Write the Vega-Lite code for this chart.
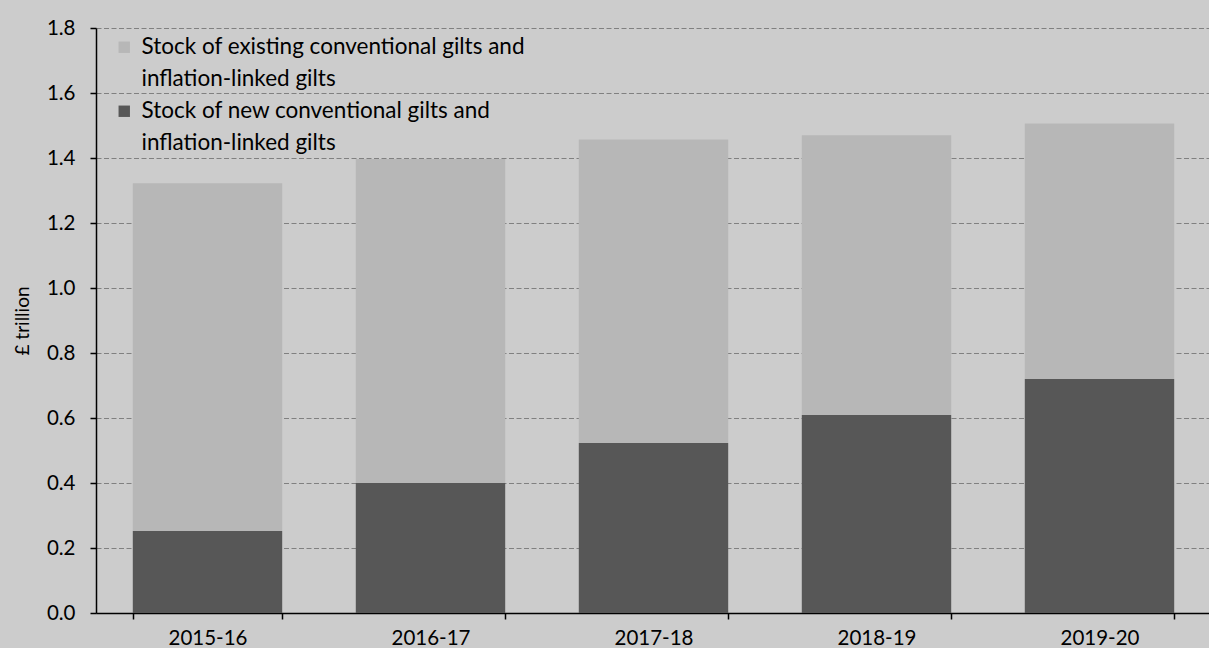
{
  "$schema": "https://vega.github.io/schema/vega-lite/v6.json",
  "width": 1115,
  "height": 585,
  "autosize": "none",
  "padding": {"left": 96, "top": 28, "right": 0, "bottom": 35},
  "background": "#cccccc",
  "config": {
    "view": {"stroke": null, "fill": "#cccccc"},
    "font": "Lato"
  },
  "data": {
    "values": [
      {"year": "2015-16", "series": "Stock of existing conventional gilts and inflation-linked gilts", "value": 1.07},
      {"year": "2015-16", "series": "Stock of new conventional gilts and inflation-linked gilts", "value": 0.252},
      {"year": "2016-17", "series": "Stock of existing conventional gilts and inflation-linked gilts", "value": 0.997},
      {"year": "2016-17", "series": "Stock of new conventional gilts and inflation-linked gilts", "value": 0.4},
      {"year": "2017-18", "series": "Stock of existing conventional gilts and inflation-linked gilts", "value": 0.934},
      {"year": "2017-18", "series": "Stock of new conventional gilts and inflation-linked gilts", "value": 0.523},
      {"year": "2018-19", "series": "Stock of existing conventional gilts and inflation-linked gilts", "value": 0.861},
      {"year": "2018-19", "series": "Stock of new conventional gilts and inflation-linked gilts", "value": 0.609},
      {"year": "2019-20", "series": "Stock of existing conventional gilts and inflation-linked gilts", "value": 0.786},
      {"year": "2019-20", "series": "Stock of new conventional gilts and inflation-linked gilts", "value": 0.72}
    ]
  },
  "mark": {"type": "bar"},
  "encoding": {
    "x": {
      "field": "year",
      "type": "nominal",
      "scale": {"paddingInner": 0.33, "paddingOuter": 0.165},
      "axis": {
        "title": null,
        "labelAngle": 0,
        "labelFontSize": 20.5,
        "labelColor": "#000000",
        "labelPadding": 9,
        "domainColor": "#000000",
        "domainWidth": 1.5,
        "tickColor": "#000000",
        "tickWidth": 1.5,
        "tickSize": 6,
        "tickBand": "extent",
        "grid": false
      }
    },
    "y": {
      "field": "value",
      "type": "quantitative",
      "stack": "zero",
      "scale": {"domain": [0, 1.8], "nice": false},
      "axis": {
        "title": "£ trillion",
        "titleFontSize": 19,
        "titleFontWeight": "normal",
        "titleColor": "#000000",
        "titlePadding": 14,
        "values": [0, 0.2, 0.4, 0.6, 0.8, 1.0, 1.2, 1.4, 1.6, 1.8],
        "format": ".1f",
        "labelFontSize": 20.5,
        "labelColor": "#000000",
        "labelPadding": 15,
        "domainColor": "#000000",
        "domainWidth": 1.5,
        "tickColor": "#000000",
        "tickWidth": 1.5,
        "tickSize": 6,
        "grid": true,
        "gridColor": "#808080",
        "gridWidth": 1,
        "gridDash": [5, 2.5]
      }
    },
    "color": {
      "field": "series",
      "type": "nominal",
      "scale": {
        "domain": ["Stock of existing conventional gilts and inflation-linked gilts", "Stock of new conventional gilts and inflation-linked gilts"],
        "range": ["#b7b7b7", "#575757"]
      },
      "legend": {
        "title": null,
        "orient": "none",
        "legendX": 17,
        "legendY": 8,
        "padding": 0,
        "symbolType": "square",
        "symbolSize": 130,
        "symbolStrokeWidth": 0,
        "labelFontSize": 22.5,
        "labelColor": "#000000",
        "labelLimit": 600,
        "labelOffset": 6,
        "rowPadding": 9,
        "labelExpr": "split(replace(datum.label, 'gilts and ', 'gilts and|'), '|')",
        "encode": {
          "labels": {"update": {"lineHeight": {"value": 32}}}
        }
      }
    },
    "order": {"field": "series", "sort": "descending"}
  }
}
